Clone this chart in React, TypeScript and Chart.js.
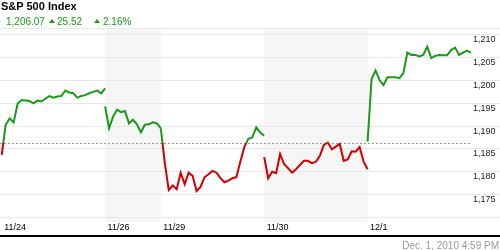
import React, { useEffect, useRef } from 'react';
import { Chart, registerables } from 'chart.js';

Chart.register(...registerables);

// ---- data ----
const dayLabels = ['11/24', '11/26', '11/29', '11/30', '12/1'];
const daySlots = [26, 14, 26, 26, 26]; // 15-minute intervals per session
const shadedDays = [1, 3];

const nov24 = [1183.7, 1190.3, 1191.7, 1190.8, 1194.9, 1195.7, 1195.6, 1195.5, 1195.0, 1195.6, 1195.4, 1196.0, 1196.6, 1196.25, 1196.5, 1196.6, 1197.8, 1197.35, 1197.2, 1196.25, 1196.6, 1196.8, 1197.2, 1197.5, 1197.8, 1197.2, 1198.3];
const nov26 = [1194.3, 1189.55, 1192.1, 1193.6, 1193.05, 1193.3, 1190.6, 1191.4, 1190.4, 1188.65, 1190.3, 1190.4, 1190.85, 1190.6, 1189.55];
const nov29 = [1189.5, 1182.0, 1176.0, 1177.0, 1176.2, 1179.8, 1177.3, 1179.8, 1179.1, 1175.8, 1176.7, 1178.8, 1179.45, 1180.2, 1179.8, 1178.6, 1177.7, 1178.05, 1178.6, 1178.8, 1182.2, 1185.4, 1187.2, 1187.5, 1189.75, 1188.6, 1187.9];
const nov30 = [1183.2, 1178.6, 1180.0, 1179.7, 1183.9, 1181.7, 1180.8, 1179.8, 1180.55, 1181.5, 1182.4, 1182.4, 1181.9, 1182.2, 1183.5, 1185.9, 1186.45, 1184.9, 1185.5, 1186.1, 1182.4, 1182.7, 1184.5, 1184.4, 1185.4, 1182.2, 1180.55];
const dec1 = [1186.6, 1200.3, 1202.2, 1200.1, 1199.0, 1200.7, 1200.7, 1200.7, 1200.5, 1201.6, 1206.1, 1205.6, 1205.6, 1205.25, 1205.6, 1207.4, 1204.9, 1205.4, 1205.6, 1205.55, 1205.55, 1206.7, 1207.2, 1205.6, 1206.1, 1206.55, 1206.07];

const referenceLevel = 1186.3;
const yTicks = [1170, 1175, 1180, 1185, 1190, 1195, 1200, 1205, 1210];
const yMin = 1169;
const yMax = 1211.5;

const titleText = 'S&P 500 Index';
const lastText = '1,206.07';
const changeText = '25.52';
const pctText = '2.16%';
const timestampText = 'Dec. 1, 2010 4:59 PM';

const GREEN = '#189a18';
const RED = '#d10000';
const FONT = '"Liberation Sans", Arial, Helvetica, sans-serif';

const days = [nov24, nov26, nov29, nov30, dec1];
const starts: number[] = [];
let acc = 0;
daySlots.forEach((n) => { starts.push(acc); acc += n; });
const totalSlots = acc;

const points: { x: number; y: number | null }[] = [];
days.forEach((vals, d) => {
  if (d > 0) points.push({ x: starts[d], y: null });
  vals.forEach((v, i) => points.push({ x: starts[d] + i, y: v }));
});

const decorPlugin = {
  id: 'decor',
  beforeDraw(chart: any) {
    const { ctx, chartArea, scales } = chart;
    const x = scales.x;
    ctx.save();
    ctx.fillStyle = '#f6f6f6';
    shadedDays.forEach((d) => {
      const x0 = x.getPixelForValue(starts[d]);
      const x1 = x.getPixelForValue(starts[d] + daySlots[d]);
      ctx.fillRect(x0, chartArea.top, x1 - x0, chartArea.bottom - chartArea.top);
    });
    ctx.restore();
  },
  beforeDatasetsDraw(chart: any) {
    const { ctx, chartArea, scales } = chart;
    const y = Math.round(scales.y.getPixelForValue(referenceLevel)) + 0.5;
    ctx.save();
    ctx.strokeStyle = '#9a9a9a';
    ctx.lineWidth = 1;
    ctx.setLineDash([2, 2]);
    ctx.beginPath();
    ctx.moveTo(0, y);
    ctx.lineTo(chartArea.right, y);
    ctx.stroke();
    ctx.restore();
  },
  afterDraw(chart: any) {
    const { ctx, width } = chart;
    ctx.save();
    ctx.fillStyle = '#000';
    ctx.fillRect(0, 235, width, 2);
    ctx.restore();
  },
};

function lineColor(context: any) {
  const chart = context.chart;
  const { chartArea, scales } = chart;
  if (!chartArea) return GREEN;
  const yRef = scales.y.getPixelForValue(referenceLevel);
  const g = chart.ctx.createLinearGradient(0, chartArea.top, 0, chartArea.bottom);
  let t = (yRef - chartArea.top) / (chartArea.bottom - chartArea.top);
  t = Math.min(1, Math.max(0, t));
  g.addColorStop(0, GREEN);
  g.addColorStop(t, GREEN);
  g.addColorStop(t, RED);
  g.addColorStop(1, RED);
  return g;
}

export default function App() {
  const canvasRef = useRef<HTMLCanvasElement | null>(null);

  useEffect(() => {
    if (!canvasRef.current) return;
    const chart = new Chart(canvasRef.current, {
      type: 'line',
      data: {
        datasets: [
          {
            data: points as any,
            borderColor: lineColor as any,
            borderWidth: 2,
            pointRadius: 0,
            tension: 0,
            spanGaps: false,
            fill: false,
          },
        ],
      },
      plugins: [decorPlugin],
      options: {
        responsive: false,
        animation: false,
        events: [],
        layout: { padding: { top: 28, left: 0, right: 0, bottom: 0 } },
        plugins: { legend: { display: false }, tooltip: { enabled: false }, title: { display: false } },
        scales: {
          x: {
            type: 'linear',
            min: -0.43,
            max: totalSlots,
            afterBuildTicks: (sc: any) => { sc.ticks = starts.map((v) => ({ value: v })); },
            afterFit: (sc: any) => { sc.height = 28; },
            grid: { display: false, drawTicks: false },
            border: { display: false },
            ticks: {
              align: 'start',
              labelOffset: 2.5,
              padding: 0,
              maxRotation: 0,
              autoSkip: false,
              color: '#000',
              font: { family: FONT, size: 9 },
              callback: (v: any) => {
                const i = starts.indexOf(Number(v));
                return i >= 0 ? dayLabels[i] : '';
              },
            },
          },
          y: {
            type: 'linear',
            position: 'right',
            min: yMin,
            max: yMax,
            afterBuildTicks: (sc: any) => { sc.ticks = [...yTicks, yMax].map((v) => ({ value: v })); },
            afterFit: (sc: any) => { sc.width = 29; },
            grid: { color: '#e8e8e8', lineWidth: 1, drawTicks: true, tickLength: 29 },
            border: { display: false },
            ticks: {
              padding: -27,
              labelOffset: 5,
              autoSkip: false,
              color: '#222',
              font: { family: FONT, size: 9 },
              callback: (v: any) => {
                const n = Number(v);
                if (n === yTicks[0] || !yTicks.includes(n)) return '';
                return n.toLocaleString('en-US');
              },
            },
          },
        },
      } as any,
    });
    return () => chart.destroy();
  }, []);

  const tri = (left: number) => (
    <div
      style={{
        position: 'absolute', left, top: 19, width: 0, height: 0,
        borderLeft: '3px solid transparent', borderRight: '3px solid transparent',
        borderBottom: `4px solid ${GREEN}`,
      }}
    />
  );

  return (
    <div style={{ position: 'absolute', left: 0, top: 0, width: 500, height: 250, background: '#fff', overflow: 'hidden', fontFamily: FONT }}>
      <canvas ref={canvasRef} width={500} height={250} style={{ position: 'absolute', left: 0, top: 0, display: 'block' }} />
      <div style={{ position: 'absolute', left: 1, top: 0, fontSize: 11, lineHeight: '12px', fontWeight: 'bold', color: '#000', whiteSpace: 'nowrap' }}>{titleText}</div>
      <div style={{ position: 'absolute', left: 6, top: 15.5, fontSize: 10, lineHeight: '12px', color: GREEN, whiteSpace: 'nowrap' }}>{lastText}</div>
      {tri(49)}
      <div style={{ position: 'absolute', left: 57, top: 15.5, fontSize: 10, lineHeight: '12px', color: GREEN, whiteSpace: 'nowrap' }}>{changeText}</div>
      {tri(93.5)}
      <div style={{ position: 'absolute', left: 103, top: 15.5, fontSize: 10, lineHeight: '12px', color: GREEN, whiteSpace: 'nowrap' }}>{pctText}</div>
      <div style={{ position: 'absolute', right: 1, top: 239.5, fontSize: 10, lineHeight: '12px', color: '#9a9a9a', whiteSpace: 'nowrap' }}>{timestampText}</div>
    </div>
  );
}
